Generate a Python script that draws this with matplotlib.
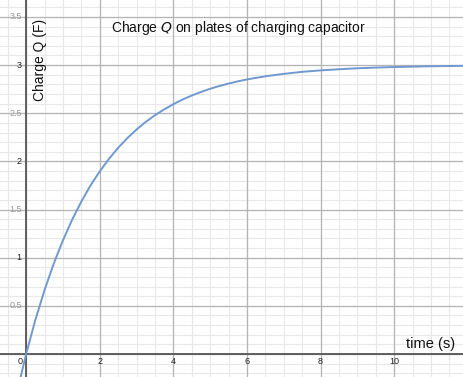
import matplotlib.pyplot as plt

# values
t_vals = [-0.2, 0, 0.25, 0.5, 0.75, 1, 1.25, 1.5, 1.75, 2, 2.25, 2.5, 2.75, 3, 3.25,
          3.5, 3.75, 4, 4.25, 4.5, 4.75, 5, 5.25, 5.5, 5.75, 6, 6.5, 7, 7.5, 8, 8.5,
          9, 9.5, 10, 11, 12]
q_vals = [-0.32, 0, 0.353, 0.664, 0.938, 1.180, 1.394, 1.583, 1.751, 1.896, 2.026,
          2.141, 2.242, 2.331, 2.410, 2.479, 2.540, 2.594, 2.642, 2.684, 2.721, 2.754,
          2.783, 2.808, 2.831, 2.851, 2.884, 2.909, 2.930, 2.945, 2.957, 2.967, 2.974,
          2.980, 2.988, 2.993]

x_ticks = [2, 4, 6, 8, 10]
y_ticks = [0.5, 1, 1.5, 2, 2.5, 3, 3.5]
y_labels = ['0.5', '1', '1.5', '2', '2.5', '3', '3.5']

plt.rcParams['font.family'] = ['Liberation Sans', 'DejaVu Sans']

fig = plt.figure(figsize=(4.63, 3.77), dpi=100)
ax = fig.add_axes([0, 0, 1, 1])
ax.set_xlim(-0.71, 11.87)
ax.set_ylim(-0.239, 3.676)
for s in ax.spines.values():
    s.set_visible(False)
ax.set_xticks([])
ax.set_yticks([])

# grid
i = -1.0
while i < 12:
    ax.axvline(i, color='#e8e8e8', lw=0.8, zorder=0)
    i += 0.5
j = -0.2
while j < 3.7:
    ax.axhline(j, color='#e8e8e8', lw=0.8, zorder=0)
    j += 0.1
for xt in range(-2, 13, 2):
    ax.axvline(xt, color='#b4b4b4', lw=0.9, zorder=1)
for k in range(0, 8):
    ax.axhline(k * 0.5, color='#b4b4b4', lw=0.9, zorder=1)

ax.axvline(0, color='#555555', lw=1.3, zorder=2)
ax.axhline(0, color='#555555', lw=1.3, zorder=2)

ax.plot(t_vals, q_vals, color='#7099d0', lw=1.4, zorder=3)

for xt in x_ticks:
    ax.text(xt, -0.075, str(xt), ha='center', va='center', fontsize=6.5, color='#222222')
ax.text(-0.16, -0.075, '0', ha='center', va='center', fontsize=6.5, color='#222222')
for yt, lab in zip(y_ticks, y_labels):
    c = '#222222' if float(yt).is_integer() else '#999999'
    ax.text(-0.12, yt, lab, ha='right', va='center', fontsize=6.5, color=c)

ax.text(2.3, 3.39, 'Charge $\\it{Q}$ on plates of charging capacitor', fontsize=10,
        ha='left', va='center', color='#111111')
ax.text(0.38, 3.05, 'Charge Q (F)', rotation=90, fontsize=10, ha='center', va='center',
        color='#111111')
ax.text(11.65, 0.1, 'time (s)', fontsize=10.5, ha='right', va='center', color='#111111')

fig.savefig('out.png', dpi=100)
